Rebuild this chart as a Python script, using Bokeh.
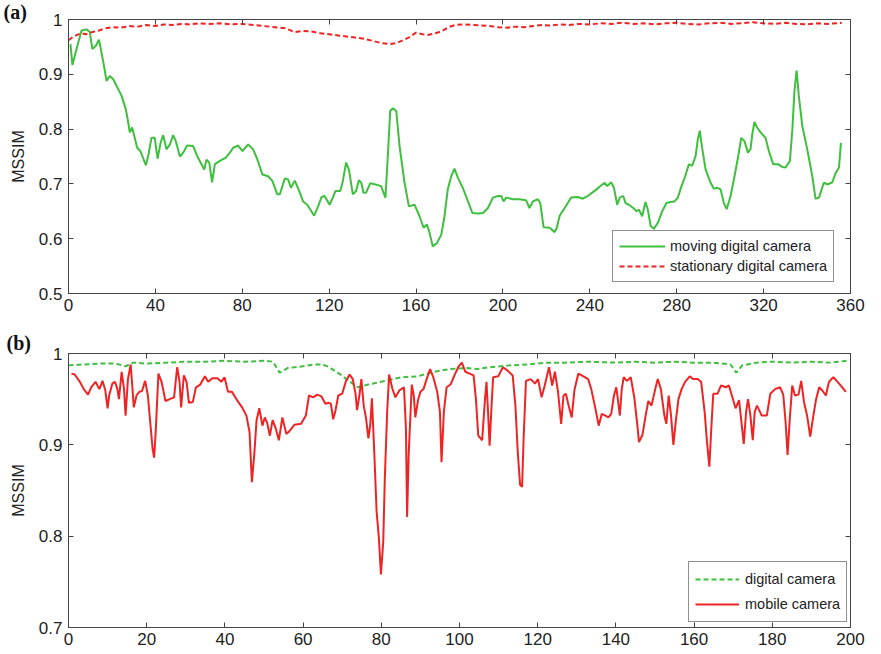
from bokeh.plotting import figure
from bokeh.models import LinearAxis, FixedTicker, Legend, LegendItem, Range1d, Title
from bokeh.layouts import column
from bokeh.embed import file_html
from bokeh.resources import INLINE

# ---------------- data: panel (a) ----------------
moving_x = [0.9, 1.8, 2.9, 4.5, 6.0, 8.3, 9.8, 11.0, 12.6, 14.0, 14.9, 16.3, 17.5, 19.0, 20.6, 22.1,
            24.4, 26.4, 27.5, 28.2, 29.3, 30.5, 31.6, 33.1, 35.6, 36.7, 38.2, 39.7, 41.0, 42.4, 43.6,
            45.1, 46.7, 48.2, 49.4, 51.3, 52.8, 54.6, 57.4, 59.2, 60.8, 62.5, 63.5, 64.8, 66.1, 67.4,
            69.7, 72.4, 74.3, 75.8, 78.1, 80.1, 82.7, 85.0, 86.9, 89.3, 91.9, 93.9, 96.1, 97.3, 99.6,
            101.1, 102.4, 104.2, 106.5, 108.0, 109.9, 113.1, 114.9, 116.5,
            117.9, 120.2, 121.7, 122.9, 125.1, 126.3, 127.8, 129.1, 130.9, 132.4, 133.7, 134.8, 135.8,
            137.0, 138.9, 141.4, 143.9, 145.9, 147.0, 148.1, 149.3, 150.9, 152.4, 154.7, 156.7, 159.3,
            161.6, 163.5, 165.0, 166.2, 167.7, 169.6, 171.6, 173.1, 174.6, 176.2, 177.7, 179.3, 181.5,
            183.9, 185.9, 188.5, 190.8, 193.1, 195.4, 197.7, 199.2, 200.3, 201.5, 204.6, 207.6, 210.7,
            212.2, 213.8, 216.1, 217.2, 218.7, 221.5, 223.8, 224.8, 226.1, 228.4, 231.4, 234.5, 236.8,
            239.1,
            241.1, 243.1, 244.9, 246.8, 248.0, 249.8, 251.1, 252.6, 253.8, 255.4, 256.4, 258.0, 260.0,
            261.5, 262.6, 264.1, 265.6, 266.7, 268.0, 269.5, 271.3, 273.3, 275.3, 277.1, 279.0, 280.5,
            282.2, 283.9, 285.6, 287.1, 288.7, 289.7, 290.6, 291.7, 293.3, 295.6, 297.1, 298.6, 300.2,
            301.7, 303.0, 304.8, 306.6, 308.2, 309.7, 311.2, 312.8, 314.0, 314.8, 315.8, 317.0, 318.6,
            320.9, 322.4, 324.4, 326.6, 328.6, 330.1, 332.1, 333.2, 334.2, 335.2, 336.2, 337.8, 340.1,
            342.4, 343.9, 345.5, 347.7, 349.6, 351.6, 353.2, 354.7, 355.6]
moving_y = [0.955, 0.917, 0.934, 0.958, 0.980, 0.982, 0.977, 0.946, 0.952, 0.963, 0.946, 0.916, 0.888,
            0.897, 0.891, 0.879, 0.861, 0.836, 0.812, 0.794, 0.803, 0.784, 0.766, 0.760, 0.734, 0.751,
            0.784, 0.784, 0.746, 0.775, 0.789, 0.763, 0.772, 0.789, 0.778, 0.750, 0.757, 0.770, 0.769,
            0.751, 0.739, 0.726, 0.744, 0.739, 0.703, 0.736, 0.742, 0.748, 0.757, 0.766, 0.770, 0.760,
            0.772, 0.763, 0.745, 0.717, 0.714, 0.705, 0.681, 0.681, 0.710, 0.708, 0.693, 0.706, 0.684,
            0.668, 0.662, 0.642, 0.659, 0.676,
            0.678, 0.662, 0.675, 0.687, 0.687, 0.705, 0.739, 0.726, 0.681, 0.687, 0.707, 0.702, 0.684,
            0.684, 0.701, 0.699, 0.696, 0.675, 0.751, 0.833, 0.838, 0.833, 0.769, 0.702, 0.659, 0.662,
            0.641, 0.620, 0.626, 0.611, 0.586, 0.592, 0.607, 0.641, 0.690, 0.714, 0.728, 0.711, 0.693,
            0.668, 0.647, 0.646, 0.647, 0.656, 0.675, 0.678, 0.678, 0.668, 0.675, 0.672, 0.672, 0.670,
            0.656, 0.668, 0.672, 0.665, 0.621, 0.620, 0.612, 0.620, 0.642, 0.656, 0.675, 0.676, 0.673,
            0.678,
            0.684, 0.690, 0.696, 0.702, 0.696, 0.703, 0.693, 0.662, 0.675, 0.678, 0.665, 0.662, 0.656,
            0.650, 0.653, 0.641, 0.667, 0.653, 0.623, 0.618, 0.629, 0.650, 0.665, 0.667, 0.668, 0.675,
            0.696, 0.714, 0.736, 0.733, 0.751, 0.781, 0.797, 0.766, 0.726, 0.702, 0.691, 0.693, 0.690,
            0.665, 0.654, 0.678, 0.714, 0.748, 0.784, 0.778, 0.757, 0.764, 0.791, 0.813, 0.803, 0.794,
            0.784, 0.760, 0.736, 0.736, 0.731, 0.730, 0.742, 0.797, 0.870, 0.907, 0.861, 0.806, 0.763,
            0.714, 0.673, 0.675, 0.702, 0.699, 0.703, 0.720, 0.730, 0.775]

stationary_x = [0, 2, 4, 6, 8, 10, 12, 14, 17, 20, 24, 28, 32, 36, 40, 44, 48, 52, 56, 60, 65, 70, 75,
                80, 85, 90, 95, 100, 104, 108, 112, 116, 120, 124, 128, 132, 136, 140, 144, 148, 151,
                154, 157, 160, 163, 166, 169, 172, 175, 178, 182, 186, 190, 194, 198, 202, 206, 210,
                214, 218, 222, 226, 230, 235, 240, 245, 250, 255, 260, 265, 270, 275, 280, 285, 290,
                295, 300, 305, 310, 315, 320, 325, 330, 335, 340, 345, 350, 356]
stationary_y = [0.962, 0.968, 0.972, 0.975, 0.973, 0.976, 0.978, 0.980, 0.984, 0.986, 0.985, 0.988,
                0.987, 0.990, 0.988, 0.991, 0.990, 0.992, 0.991, 0.993, 0.992, 0.993, 0.991, 0.992,
                0.990, 0.988, 0.986, 0.984, 0.977, 0.979, 0.978, 0.975, 0.973, 0.971, 0.969, 0.967,
                0.965, 0.961, 0.957, 0.955, 0.957, 0.962, 0.968, 0.976, 0.973, 0.972, 0.975, 0.979,
                0.986, 0.990, 0.991, 0.990, 0.989, 0.988, 0.986, 0.985, 0.987, 0.986, 0.988, 0.990,
                0.989, 0.991, 0.990, 0.992, 0.991, 0.993, 0.992, 0.994, 0.992, 0.993, 0.991, 0.993,
                0.994, 0.992, 0.991, 0.993, 0.994, 0.992, 0.993, 0.995, 0.993, 0.992, 0.994, 0.992,
                0.991, 0.993, 0.992, 0.994]

a_xticks = [0, 40, 80, 120, 160, 200, 240, 280, 320, 360]
a_yticks = [0.5, 0.6, 0.7, 0.8, 0.9, 1.0]

# ---------------- data: panel (b) ----------------
mobile_x = [0.75, 1.6, 2.9, 3.9, 5.0, 5.8, 6.9, 7.9, 8.7, 9.4, 10.0, 10.4, 11.2, 11.9, 12.5, 12.9, 13.6,
            14.2, 14.6, 15.2, 15.9, 16.3, 16.7, 17.4, 18.1, 18.8, 19.6, 20.3, 20.9, 21.5, 21.9, 22.3,
            23.0, 23.8, 24.8, 25.9, 27.0, 27.8, 28.4, 28.8, 29.5, 30.2, 30.8, 31.8, 32.6, 33.7, 34.9,
            35.7, 36.8, 38.1, 39.1, 39.9, 40.8, 41.8, 43.1, 44.4, 45.5, 46.3, 46.9, 47.5, 48.1, 48.8,
            49.6, 50.2, 50.8, 51.5, 52.2, 53.0, 53.8, 54.7, 55.7, 56.5, 57.8, 59.5, 60.7, 61.5, 62.6,
            63.6, 64.7, 65.7, 66.6,
            67.1, 67.7, 68.3, 69.0, 70.0, 70.9, 71.9, 72.7, 73.4, 73.8, 74.4, 74.9, 75.5, 76.1, 76.7,
            77.2, 77.6, 78.2, 78.8, 79.4, 79.9, 80.5, 80.9, 81.5, 82.0, 82.8, 83.6, 84.7, 85.8, 86.3,
            86.6, 87.0, 87.8, 88.3, 88.7, 89.4, 90.0, 90.8, 91.6, 92.5, 93.3, 94.3, 95.0, 95.4, 96.0,
            96.7, 97.7, 98.7, 99.8, 100.6, 101.5, 102.6, 103.6, 104.2, 104.8, 105.8, 106.5, 106.9,
            107.3, 107.7, 108.2, 108.6, 109.9, 111.1, 112.4, 113.6, 114.3, 114.9, 115.5, 116.0, 116.4,
            117.0, 118.2, 119.3, 120.1, 121.0, 121.8, 122.9, 123.7, 124.4, 125.2, 126.0, 126.6, 127.2,
            127.9, 128.7, 129.4, 130.4, 131.7, 132.9,
            133.7, 134.7, 135.6, 136.4, 137.3, 138.1, 138.8, 139.5, 140.1, 140.5, 141.0, 141.5, 142.0,
            142.8, 143.8, 144.7, 145.5, 145.9, 146.8, 147.6, 148.3, 149.1, 149.9, 150.7, 151.5, 152.4,
            152.9, 153.5, 154.1, 154.7, 155.4, 156.0, 156.8, 157.7, 158.9, 159.7, 160.9, 161.8, 162.7,
            163.3, 163.9, 164.4, 164.9, 166.0, 166.9, 168.1, 168.9, 169.8, 170.6, 171.5, 172.2, 172.7,
            173.3, 173.8, 174.4, 175.0, 175.5, 176.1, 177.3, 178.6, 179.5, 180.7, 182.0, 182.8, 183.4,
            183.9, 184.5, 185.1, 185.8, 186.7, 187.4, 188.1, 188.9, 189.7, 190.4, 191.2, 192.0, 192.9,
            193.7, 194.5, 195.6, 196.7, 197.9, 198.8]
mobile_y = [0.978, 0.977, 0.969, 0.961, 0.955, 0.963, 0.969, 0.961, 0.970, 0.960, 0.940, 0.954, 0.967,
            0.969, 0.961, 0.950, 0.980, 0.961, 0.932, 0.972, 0.988, 0.965, 0.941, 0.954, 0.958, 0.959,
            0.970, 0.954, 0.925, 0.896, 0.886, 0.914, 0.978, 0.969, 0.948, 0.950, 0.952, 0.985, 0.969,
            0.941, 0.976, 0.969, 0.946, 0.947, 0.963, 0.966, 0.975, 0.969, 0.973, 0.973, 0.969, 0.974,
            0.958, 0.958, 0.949, 0.941, 0.932, 0.914, 0.859, 0.889, 0.927, 0.940, 0.921, 0.930, 0.924,
            0.910, 0.927, 0.918, 0.905, 0.930, 0.912, 0.915, 0.922, 0.923, 0.932, 0.954, 0.952, 0.955,
            0.953, 0.945, 0.946,
            0.945, 0.928, 0.938, 0.954, 0.956, 0.969, 0.977, 0.972, 0.956, 0.938, 0.954, 0.972, 0.943,
            0.929, 0.907, 0.923, 0.951, 0.892, 0.827, 0.797, 0.758, 0.794, 0.863, 0.936, 0.977, 0.962,
            0.952, 0.960, 0.963, 0.918, 0.821, 0.889, 0.966, 0.954, 0.930, 0.949, 0.958, 0.961, 0.972,
            0.983, 0.974, 0.958, 0.936, 0.881, 0.936, 0.963, 0.966, 0.976, 0.986, 0.990, 0.980, 0.978,
            0.976, 0.950, 0.910, 0.905, 0.949, 0.969, 0.936, 0.899, 0.943, 0.974, 0.975, 0.985, 0.981,
            0.976, 0.943, 0.892, 0.856, 0.854, 0.907, 0.970, 0.972, 0.967, 0.972, 0.952, 0.965, 0.985,
            0.965, 0.980, 0.958, 0.923, 0.954, 0.956, 0.943, 0.930, 0.960, 0.978, 0.975, 0.972,
            0.961, 0.941, 0.921, 0.934, 0.932, 0.930, 0.934, 0.954, 0.963, 0.950, 0.932, 0.961, 0.974,
            0.970, 0.974, 0.952, 0.921, 0.903, 0.911, 0.932, 0.948, 0.943, 0.958, 0.972, 0.961, 0.932,
            0.923, 0.954, 0.932, 0.900, 0.929, 0.950, 0.961, 0.969, 0.975, 0.972, 0.972, 0.969, 0.936,
            0.903, 0.876, 0.918, 0.956, 0.956, 0.965, 0.963, 0.965, 0.952, 0.940, 0.949, 0.921, 0.901,
            0.936, 0.950, 0.932, 0.905, 0.936, 0.943, 0.932, 0.932, 0.956, 0.961, 0.963, 0.955, 0.925,
            0.889, 0.930, 0.965, 0.954, 0.955, 0.970, 0.947, 0.932, 0.909, 0.929, 0.950, 0.963, 0.959,
            0.954, 0.969, 0.974, 0.969, 0.963, 0.958]

digital_x = [0, 4, 8, 12, 14.6, 16.5, 20, 25, 30, 35, 40, 45, 50, 52.3, 54, 56, 60, 63, 65, 66.7, 69.2,
             71.7, 74, 76.7, 80.9, 85.1, 89.3, 93.5, 97.7, 101.9, 104.4, 107.8, 112.8, 117.8, 122,
             126.8, 133, 140, 145, 150, 155, 160, 165, 169.3, 170.8, 172.3, 176, 180, 185, 190, 195, 199]
digital_y = [0.987, 0.988, 0.989, 0.989, 0.986, 0.990, 0.989, 0.990, 0.991, 0.991, 0.992, 0.991, 0.992,
             0.991, 0.979, 0.984, 0.986, 0.988, 0.988, 0.985, 0.978, 0.970, 0.963, 0.966, 0.970, 0.974,
             0.975, 0.980, 0.983, 0.984, 0.983, 0.985, 0.987, 0.988, 0.990, 0.990, 0.991, 0.990, 0.991,
             0.990, 0.991, 0.990, 0.990, 0.988, 0.979, 0.987, 0.990, 0.991, 0.990, 0.991, 0.990, 0.992]

b_xticks = [0, 20, 40, 60, 80, 100, 120, 140, 160, 180, 200]
b_yticks = [0.7, 0.8, 0.9, 1.0]

FONT = "Liberation Sans"
GREEN = "#3ec03e"
RED = "#ee2424"
TXT = "#222222"


def mirror_axis(ticks):
    return LinearAxis(ticker=FixedTicker(ticks=ticks), major_tick_in=5, major_tick_out=0,
                      minor_tick_line_color=None, major_label_text_font_size="1px",
                      major_label_overrides={t: "" for t in ticks},
                      axis_line_color="#444444", major_tick_line_color="#444444",
                      major_label_standoff=0)


def make_fig(w, h, xr, yr, xticks, yticks, borders):
    left, right, top, bottom = borders
    p = figure(width=w, height=h, x_range=Range1d(*xr), y_range=Range1d(*yr),
               output_backend="svg", toolbar_location=None,
               min_border_left=left, min_border_right=right,
               min_border_top=top, min_border_bottom=bottom)
    p.xgrid.visible = False
    p.ygrid.visible = False
    p.outline_line_color = "#444444"
    p.outline_line_width = 1
    p.background_fill_color = "white"
    p.border_fill_color = "white"
    for ax in p.xaxis + p.yaxis:
        ax.major_tick_in = 5
        ax.major_tick_out = 0
        ax.minor_tick_line_color = None
        ax.axis_line_color = "#444444"
        ax.major_tick_line_color = "#444444"
        ax.major_label_text_font = FONT
        ax.major_label_text_font_size = "17px"
        ax.major_label_text_color = TXT
    p.xaxis.ticker = FixedTicker(ticks=xticks)
    p.yaxis.ticker = FixedTicker(ticks=yticks)
    p.xaxis.major_label_standoff = 5
    p.yaxis.major_label_standoff = 6
    p.yaxis.major_label_overrides = {1: "1"}
    p.yaxis.axis_label = "MSSIM"
    p.yaxis.axis_label_text_font = FONT
    p.yaxis.axis_label_text_font_size = "16px"
    p.yaxis.axis_label_text_font_style = "normal"
    p.yaxis.axis_label_text_color = TXT
    p.yaxis.axis_label_standoff = 9
    p.add_layout(mirror_axis(xticks), "above")
    p.add_layout(mirror_axis(yticks), "right")
    return p


def panel_title(text, offset, standoff):
    return Title(text=text, align="left", offset=offset, standoff=standoff,
                 text_font="Liberation Serif", text_font_style="bold",
                 text_font_size="20px", text_color="#111111")


# ---------- panel (a) ----------
pa = make_fig(881, 325, (0, 360), (0.5, 1.0), a_xticks, a_yticks, (68, 31, 19, 32))
ga = pa.line(moving_x, moving_y, line_color=GREEN, line_width=2)
ra = pa.line(stationary_x, stationary_y, line_color=RED, line_width=2, line_dash="5 3")
leg_a = Legend(items=[LegendItem(label="moving digital camera", renderers=[ga]),
                      LegendItem(label="stationary digital camera", renderers=[ra])],
               location=(544, 11), label_text_font=FONT, label_text_font_size="14.5px",
               label_text_color=TXT, glyph_width=46, glyph_height=18, label_height=18,
               spacing=2, padding=6, margin=0, label_standoff=5,
               border_line_color="#222222", border_line_width=1, background_fill_alpha=1)
pa.add_layout(leg_a)
pa.add_layout(panel_title("(a)", -65, -7), "above")

# ---------- panel (b) ----------
pb = make_fig(881, 329, (0, 200), (0.7, 1.0), b_xticks, b_yticks, (65, 21, 28, 27))
gb = pb.line(digital_x, digital_y, line_color=GREEN, line_width=2, line_dash="5 3")
rb = pb.line(mobile_x, mobile_y, line_color=RED, line_width=2)
leg_b = Legend(items=[LegendItem(label="digital camera", renderers=[gb]),
                      LegendItem(label="mobile camera", renderers=[rb])],
               location=(620, 5), label_text_font=FONT, label_text_font_size="14.5px",
               label_text_color=TXT, glyph_width=44, glyph_height=22, label_height=22,
               spacing=3, padding=6, margin=0, label_standoff=6,
               border_line_color="#222222", border_line_width=1, background_fill_alpha=1)
pb.add_layout(leg_b)
pb.add_layout(panel_title("(b)", -62, 0), "above")

layout = column(pa, pb, spacing=0)
open("out.html", "w").write(file_html(layout, INLINE))
